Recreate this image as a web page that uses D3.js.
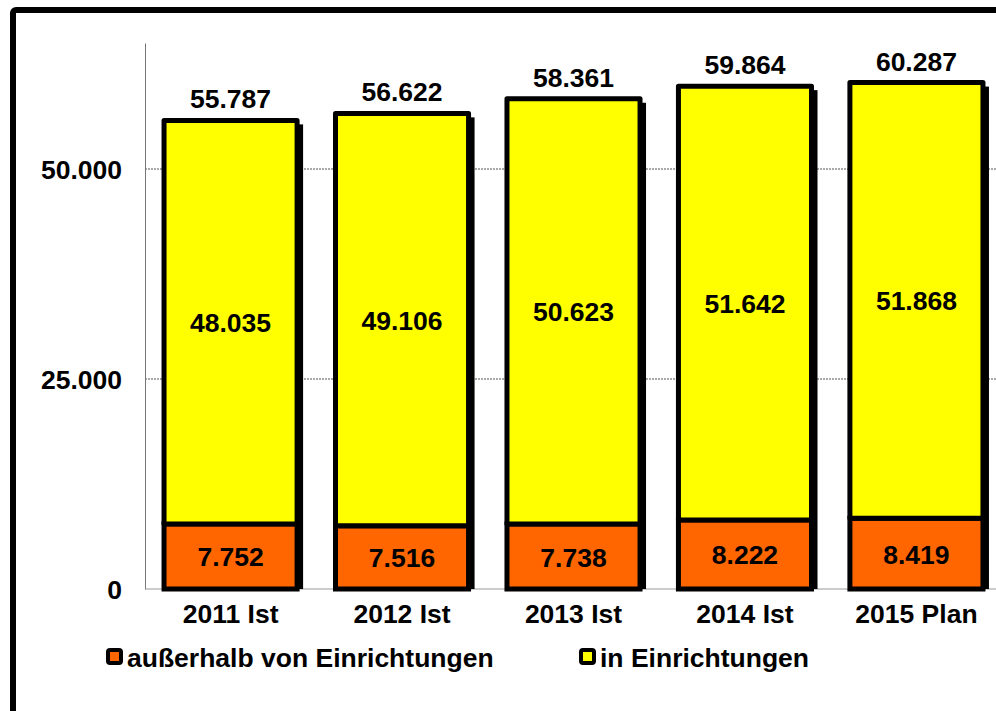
<!DOCTYPE html>
<html>
<head>
<meta charset="utf-8">
<script src="https://cdn.jsdelivr.net/npm/d3@7"></script>
<style>
  body { margin: 0; background: #fff; }
  svg text { font-family: "Liberation Sans", Arial, sans-serif; font-weight: bold; }
</style>
</head>
<body>
<div id="chart"></div>
<script>
// data
var categories = ["2011 Ist", "2012 Ist", "2013 Ist", "2014 Ist", "2015 Plan"];
var ausserhalb = [7752, 7516, 7738, 8222, 8419];
var inEinr = [48035, 49106, 50623, 51642, 51868];
var totals = [55787, 56622, 58361, 59864, 60287];
var yTicks = [0, 25000, 50000];
var seriesNames = ["außerhalb von Einrichtungen", "in Einrichtungen"];
var seriesColors = ["#ff6600", "#ffff00"];

var svgWidth = 996, svgHeight = 711;
var margin = { top: 43, left: 145, right: 1, bottom: 122 };
var height = svgHeight - margin.top - margin.bottom;
var fs = 26.5;

var fmt = function(v) { return d3.format(",")(v).replace(/,/g, "."); };

var svg = d3.select("#chart").append("svg")
    .attr("width", svgWidth)
    .attr("height", svgHeight);

// outer frame
svg.append("rect")
    .attr("x", 13).attr("y", 10)
    .attr("width", svgWidth + 20).attr("height", svgHeight + 20)
    .attr("fill", "none").attr("stroke", "#000").attr("stroke-width", 6)
    .attr("rx", 3);

var g = svg.append("g").attr("transform", `translate(${margin.left},${margin.top})`);

var x = d3.scaleBand().domain(categories).range([0, 857]).paddingInner(0.224).paddingOuter(0.111);
var y = d3.scaleLinear().domain([0, 65000]).range([height, 0]);

// gridlines
g.selectAll(".grid").data(yTicks.filter(d => d > 0)).enter().append("line")
    .attr("x1", 0).attr("x2", 860)
    .attr("y1", d => y(d)).attr("y2", d => y(d))
    .attr("stroke", "#555").attr("stroke-width", 1).attr("stroke-dasharray", "2,1");

// axes
var yAxis = d3.axisLeft(y).tickValues(yTicks).tickSize(0).tickPadding(23).tickFormat(fmt);
var yg = g.append("g").call(yAxis);
yg.select(".domain").attr("stroke", "#777");
yg.selectAll("text").attr("font-size", fs).attr("fill", "#000").attr("dy", "0.36em")
    .style("font-family", "Liberation Sans, Arial, sans-serif").style("font-weight", "bold");

var xAxis = d3.axisBottom(x).tickSize(0).tickPadding(15);
var xg = g.append("g").attr("transform", `translate(0,${height})`).call(xAxis);
xg.select(".domain").attr("stroke", "#999").attr("d", "M0,0H860");
xg.selectAll("text").attr("font-size", fs).attr("fill", "#000")
    .style("font-family", "Liberation Sans, Arial, sans-serif").style("font-weight", "bold");

var bw = x.bandwidth();

// shadows
g.selectAll(".shadow").data(categories).enter().append("rect")
    .attr("x", d => x(d) + 6)
    .attr("y", (d, i) => y(totals[i]) + 4)
    .attr("width", bw)
    .attr("height", (d, i) => height - y(totals[i]) - 4)
    .attr("fill", "#000");

// lower segment
g.selectAll(".bar-a").data(categories).enter().append("rect")
    .attr("x", d => x(d))
    .attr("y", (d, i) => y(ausserhalb[i]))
    .attr("width", bw)
    .attr("height", (d, i) => height - y(ausserhalb[i]))
    .attr("fill", seriesColors[0]).attr("stroke", "#000").attr("stroke-width", 5);

// upper segment
g.selectAll(".bar-b").data(categories).enter().append("rect")
    .attr("x", d => x(d))
    .attr("y", (d, i) => y(ausserhalb[i] + inEinr[i]))
    .attr("width", bw)
    .attr("height", (d, i) => y(ausserhalb[i]) - y(ausserhalb[i] + inEinr[i]))
    .attr("fill", seriesColors[1]).attr("stroke", "#000").attr("stroke-width", 5)
    .attr("stroke-linejoin", "round");

// value labels
g.selectAll(".lab-a").data(categories).enter().append("text")
    .attr("x", d => x(d) + bw / 2)
    .attr("y", (d, i) => (y(ausserhalb[i]) + height) / 2 + 10)
    .attr("text-anchor", "middle").attr("font-size", fs)
    .text((d, i) => fmt(ausserhalb[i]));

g.selectAll(".lab-b").data(categories).enter().append("text")
    .attr("x", d => x(d) + bw / 2)
    .attr("y", (d, i) => (y(ausserhalb[i]) + y(ausserhalb[i] + inEinr[i])) / 2 + 10)
    .attr("text-anchor", "middle").attr("font-size", fs)
    .text((d, i) => fmt(inEinr[i]));

g.selectAll(".lab-t").data(categories).enter().append("text")
    .attr("x", d => x(d) + bw / 2)
    .attr("y", (d, i) => y(totals[i]) - 12)
    .attr("text-anchor", "middle").attr("font-size", fs)
    .text((d, i) => fmt(totals[i]));

// legend
var legX = [106, 579];
var leg = svg.selectAll(".leg").data(seriesNames).enter().append("g")
    .attr("transform", (d, i) => `translate(${legX[i]},648)`);
leg.append("rect")
    .attr("x", 2).attr("y", 2).attr("width", 13).attr("height", 13).attr("rx", 2)
    .attr("fill", (d, i) => seriesColors[i]).attr("stroke", "#000").attr("stroke-width", 4);
leg.append("text")
    .attr("x", 21).attr("y", 19)
    .attr("font-size", fs)
    .text(d => d);
</script>
</body>
</html>
